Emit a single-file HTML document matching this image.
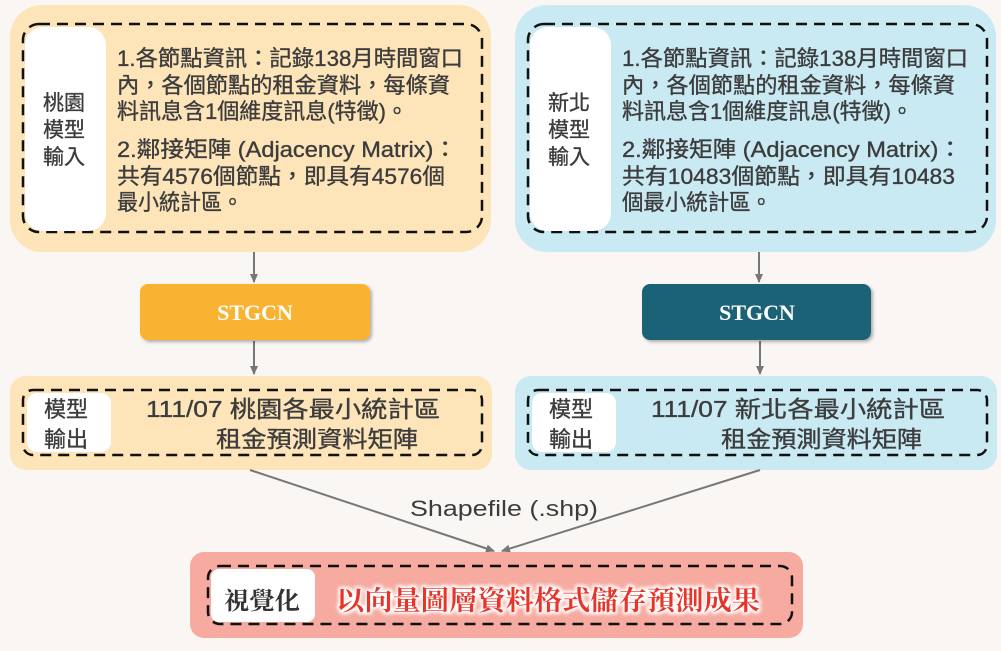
<!DOCTYPE html>
<html><head><meta charset="utf-8"><style>
html,body{margin:0;padding:0;background:#faf6f3;}
svg{display:block;}
.t{font-family:"Liberation Sans","Noto Sans CJK TC",sans-serif;fill:#3c3c3c;font-weight:normal;stroke:#3c3c3c;stroke-width:0.35;}
.s{font-family:"Liberation Serif","Noto Serif CJK SC",serif;font-weight:bold;}
</style></head><body>
<svg width="1001" height="651" viewBox="0 0 1001 651" xmlns="http://www.w3.org/2000/svg">
<defs>
<marker id="a" markerWidth="10" markerHeight="10" refX="8" refY="5" orient="auto" markerUnits="userSpaceOnUse"><path d="M0,1 L9,5 L0,9 z" fill="#777"/></marker>
<filter id="sh"><feDropShadow dx="2" dy="2" stdDeviation="1.5" flood-color="#000" flood-opacity="0.3"/></filter>
<filter id="gl"><feMorphology in="SourceAlpha" operator="dilate" radius="2" result="d"/><feGaussianBlur in="d" stdDeviation="1.5" result="b"/><feFlood flood-color="#fff"/><feComposite in2="b" operator="in" result="w"/><feMerge><feMergeNode in="w"/><feMergeNode in="SourceGraphic"/></feMerge></filter>
</defs>
<rect width="1001" height="651" fill="#faf6f3"/>
<rect x="10" y="5" width="481" height="247" rx="32" fill="#fde4b9"/>
<rect x="23" y="24" width="459" height="208" rx="16" fill="none" stroke="#111" stroke-width="2.5" stroke-dasharray="11,7"/>
<rect x="25" y="27" width="81" height="204" rx="18" fill="#fff"/>
<text class="t" font-size="21"><tspan x="43" y="110">桃園</tspan><tspan x="43" y="137">模型</tspan><tspan x="43" y="164">輸入</tspan></text>
<g class="t" font-size="22">
<text x="117" y="66" textLength="346" lengthAdjust="spacingAndGlyphs">1.各節點資訊：記錄138月時間窗口</text>
<text x="117" y="93" textLength="333" lengthAdjust="spacingAndGlyphs">內，各個節點的租金資料，每條資</text>
<text x="117" y="119" textLength="291" lengthAdjust="spacingAndGlyphs">料訊息含1個維度訊息(特徵)。</text>
<text x="117" y="157" textLength="340" lengthAdjust="spacingAndGlyphs">2.鄰接矩陣 (Adjacency Matrix)：</text>
<text x="117" y="184" textLength="328" lengthAdjust="spacingAndGlyphs">共有4576個節點，即具有4576個</text>
<text x="117" y="210" textLength="126" lengthAdjust="spacingAndGlyphs">最小統計區。</text>
</g>

<rect x="515" y="5" width="481" height="247" rx="32" fill="#c9e9f3"/>
<rect x="528" y="24" width="459" height="208" rx="16" fill="none" stroke="#111" stroke-width="2.5" stroke-dasharray="11,7"/>
<rect x="530" y="27" width="81" height="204" rx="18" fill="#fff"/>
<text class="t" font-size="21"><tspan x="548" y="110">新北</tspan><tspan x="548" y="137">模型</tspan><tspan x="548" y="164">輸入</tspan></text>
<g class="t" font-size="22">
<text x="622" y="66" textLength="346" lengthAdjust="spacingAndGlyphs">1.各節點資訊：記錄138月時間窗口</text>
<text x="622" y="93" textLength="333" lengthAdjust="spacingAndGlyphs">內，各個節點的租金資料，每條資</text>
<text x="622" y="119" textLength="291" lengthAdjust="spacingAndGlyphs">料訊息含1個維度訊息(特徵)。</text>
<text x="622" y="157" textLength="340" lengthAdjust="spacingAndGlyphs">2.鄰接矩陣 (Adjacency Matrix)：</text>
<text x="622" y="184" textLength="333" lengthAdjust="spacingAndGlyphs">共有10483個節點，即具有10483</text>
<text x="622" y="210" textLength="150" lengthAdjust="spacingAndGlyphs">個最小統計區。</text>
</g>

<line x1="254" y1="252" x2="254" y2="282" stroke="#777" stroke-width="2" marker-end="url(#a)"/>
<line x1="254" y1="341" x2="254" y2="374" stroke="#777" stroke-width="2" marker-end="url(#a)"/>
<line x1="759" y1="252" x2="759" y2="282" stroke="#777" stroke-width="2" marker-end="url(#a)"/>
<line x1="760" y1="341" x2="760" y2="374" stroke="#777" stroke-width="2" marker-end="url(#a)"/>

<rect x="140" y="284" width="230" height="56" rx="8" fill="#f9b233" filter="url(#sh)"/>
<text class="s" x="255" y="320" font-size="22" fill="#fff" text-anchor="middle">STGCN</text>
<rect x="642" y="284" width="229" height="56" rx="8" fill="#1c6277" filter="url(#sh)"/>
<text class="s" x="757" y="320" font-size="22" fill="#fff" text-anchor="middle">STGCN</text>

<rect x="10" y="376" width="482" height="94" rx="16" fill="#fde4b9"/>
<rect x="23" y="390" width="459" height="65" rx="10" fill="none" stroke="#111" stroke-width="2.5" stroke-dasharray="11,7"/>
<rect x="27" y="393" width="84" height="59" rx="10" fill="#fff"/>
<text class="t" font-size="22"><tspan x="44" y="417">模型</tspan><tspan x="44" y="447">輸出</tspan></text>
<g class="t" font-size="23">
<text x="146" y="417" textLength="294" lengthAdjust="spacingAndGlyphs">111/07 桃園各最小統計區</text>
<text x="216" y="447" textLength="202" lengthAdjust="spacingAndGlyphs">租金預測資料矩陣</text>
</g>

<rect x="515" y="376" width="482" height="94" rx="16" fill="#c9e9f3"/>
<rect x="528" y="390" width="459" height="65" rx="10" fill="none" stroke="#111" stroke-width="2.5" stroke-dasharray="11,7"/>
<rect x="532" y="393" width="84" height="59" rx="10" fill="#fff"/>
<text class="t" font-size="22"><tspan x="549" y="417">模型</tspan><tspan x="549" y="447">輸出</tspan></text>
<g class="t" font-size="23">
<text x="651" y="417" textLength="294" lengthAdjust="spacingAndGlyphs">111/07 新北各最小統計區</text>
<text x="721" y="447" textLength="201" lengthAdjust="spacingAndGlyphs">租金預測資料矩陣</text>
</g>

<line x1="250" y1="470" x2="494" y2="551" stroke="#777" stroke-width="2" marker-end="url(#a)"/>
<line x1="760" y1="470" x2="502" y2="551" stroke="#777" stroke-width="2" marker-end="url(#a)"/>
<text x="410" y="516" font-family="Liberation Sans, sans-serif" font-size="22" fill="#3c3c3c" textLength="188" lengthAdjust="spacingAndGlyphs">Shapefile (.shp)</text>

<rect x="190" y="552" width="613" height="86" rx="14" fill="#f6aaa0"/>
<rect x="208" y="566" width="584" height="58" rx="12" fill="none" stroke="#111" stroke-width="2.5" stroke-dasharray="11,7"/>
<rect x="211" y="569" width="104" height="53" rx="8" fill="#fff"/>
<text class="s" x="224" y="609" font-size="24" fill="#333" textLength="76" lengthAdjust="spacingAndGlyphs">視覺化</text>
<text class="s" x="336" y="610" font-size="27" fill="#e8352b" filter="url(#gl)" textLength="424" lengthAdjust="spacingAndGlyphs">以向量圖層資料格式儲存預測成果</text>
</svg>
</body></html>
